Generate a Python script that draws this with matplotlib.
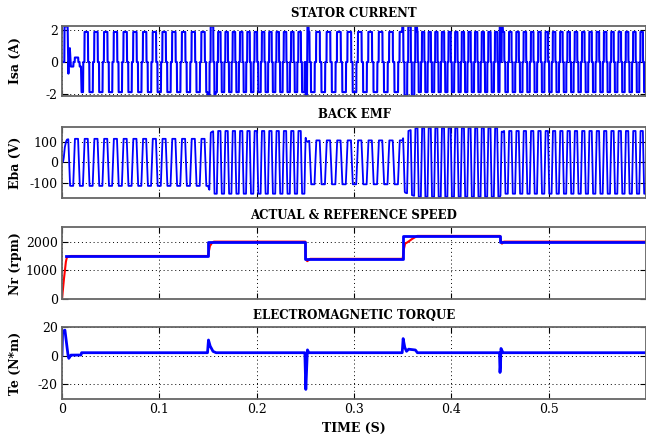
import numpy as np
import matplotlib
matplotlib.use("Agg")
import matplotlib.pyplot as plt

# --- values ---
pole_pairs = 4
emf_const = 0.077          # V per rpm (trapezoid flat-top level)
torque_const = 1.05        # N*m per A
current_limit = 2.25       # A

# reference speed (blue, stepped)
ref_t = [0.004, 0.15, 0.25, 0.35, 0.45, 0.6]
ref_rpm = [1500, 2000, 1400, 2200, 2000]

# actual speed (red)
act_t = [0, 0.002, 0.004, 0.005, 0.007, 0.009, 0.15, 0.1505, 0.152, 0.154, 0.156,
         0.25, 0.2502, 0.2506, 0.252, 0.255, 0.35, 0.351, 0.3525, 0.355, 0.36,
         0.365, 0.45, 0.4505, 0.452, 0.454, 0.6]
act_rpm = [0, 700, 1300, 1450, 1480, 1500, 1500, 1600, 1850, 1950, 2000,
           2000, 1700, 1380, 1320, 1400, 1400, 1700, 1930, 1980, 2100,
           2200, 2200, 2100, 1930, 2000, 2000]

# electromagnetic torque
te_t = [0, 0.0005, 0.003, 0.0045, 0.006, 0.007, 0.008, 0.009, 0.0195, 0.02,
        0.1495, 0.1505, 0.152, 0.155, 0.158,
        0.2495, 0.2500, 0.2505, 0.2515, 0.2522, 0.2535,
        0.3495, 0.3505, 0.352, 0.354, 0.356, 0.363, 0.365,
        0.4495, 0.4500, 0.4505, 0.451, 0.453, 0.6]
te_val = [0, 17, 18, 10, 1, -2, -1, 0.3, 0.3, 2,
          2, 11, 7, 3, 2,
          2, -12, -24, -5, 4, 2,
          2, 12, 6, 3, 4.5, 4, 2,
          2, -12, -8, 5, 2, 2]

x_ticks = [0, 0.1, 0.2, 0.3, 0.4, 0.5]
x_ticklabels = ["0", "0.1", "0.2", "0.3", "0.4", "0.5"]

# --- build waveforms from the speed / torque profiles ---
t = np.linspace(0, 0.6, 60001)
dt = t[1] - t[0]
speed = np.interp(t, act_t, act_rpm)
theta = np.cumsum(pole_pairs * speed / 60.0 * 2 * np.pi * dt)
ang = np.degrees(theta) % 360

emf_shape = np.interp(ang, [0, 30, 150, 210, 330, 360], [0, 1, 1, -1, -1, 0])
cur_shape = np.interp(ang, [0, 24, 26, 154, 156, 204, 206, 334, 336, 360],
                      [0, 0, 1, 1, 0, 0, -1, -1, 0, 0])
emf = emf_const * speed * emf_shape
torque = np.interp(t, te_t, te_val)
current = np.clip(torque / torque_const, -current_limit, current_limit) * cur_shape

plt.rcParams["font.family"] = "DejaVu Serif"
plt.rcParams["axes.unicode_minus"] = False
fig = plt.figure(figsize=(6.46, 4.34), dpi=100)

W, H = 646.0, 434.0
left, right = 62, 646
rows = [(25.7, 96), (126.7, 198), (227.3, 299), (327.3, 399.3)]
axes = []
for top, bot in rows:
    ax = fig.add_axes([left / W, 1 - bot / H, (right - left) / W, (bot - top) / H])
    axes.append(ax)

ax1, ax2, ax3, ax4 = axes

ax1.plot(t, current, color="#0000ff", lw=1.5)
ax1.set_ylim(-2.15, 2.3)
ax1.set_yticks([-2, 0, 2])
ax1.set_title("STATOR CURRENT", fontsize=8.5, fontweight="bold", pad=6)
ax1.set_ylabel("Isa (A)", fontsize=9, fontweight="bold")

ax2.plot(t, emf, color="#0000ff", lw=1.3)
ax2.set_ylim(-175, 175)
ax2.set_yticks([-100, 0, 100])
ax2.set_title("BACK EMF", fontsize=8.5, fontweight="bold", pad=6)
ax2.set_ylabel("Eba (V)", fontsize=9, fontweight="bold")

ax3.plot(act_t, act_rpm, color="#ff0000", lw=1.5)
ax3.step(ref_t, ref_rpm + [ref_rpm[-1]], where="post", color="#0000ff", lw=2)
ax3.set_ylim(0, 2500)
ax3.set_yticks([0, 1000, 2000])
ax3.set_title("ACTUAL & REFERENCE SPEED", fontsize=8.5, fontweight="bold", pad=6)
ax3.set_ylabel("Nr (rpm)", fontsize=9, fontweight="bold")

ax4.plot(t, torque, color="#0000ff", lw=2)
ax4.set_ylim(-31, 20)
ax4.set_yticks([-20, 0, 20])
ax4.set_title("ELECTROMAGNETIC TORQUE", fontsize=8.5, fontweight="bold", pad=6)
ax4.set_ylabel("Te (N*m)", fontsize=9, fontweight="bold")
ax4.set_xlabel("TIME (S)", fontsize=9, fontweight="bold", labelpad=4)

for ax in axes:
    ax.set_xlim(0, 0.6)
    ax.set_xticks(x_ticks)
    if ax is ax4:
        ax.set_xticklabels(x_ticklabels)
    else:
        ax.set_xticklabels([])
    ax.grid(True, linestyle=(0, (1, 3)), color="black", lw=0.7)
    ax.tick_params(direction="in", top=True, right=True, length=4,
                   labelsize=9, pad=3)
    for s in ax.spines.values():
        s.set_color("#666666")
        s.set_linewidth(1.3)
    ax.yaxis.set_label_coords(-0.068, 0.5)

fig.savefig("out.png", dpi=100)
